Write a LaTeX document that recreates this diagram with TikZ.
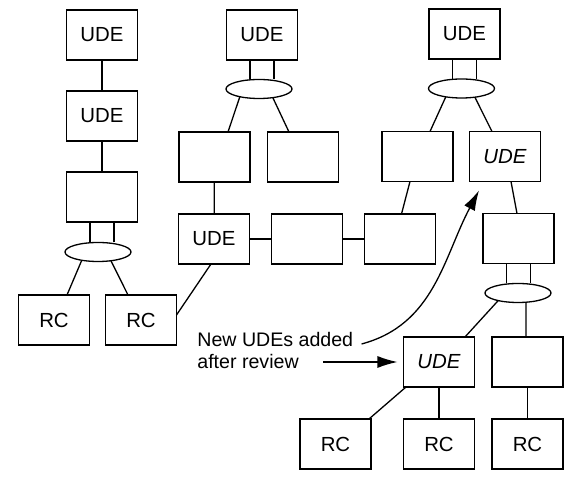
\documentclass[tikz,border=0pt]{standalone}
\usepackage{fontspec}
\setmainfont{Liberation Sans}
\usetikzlibrary{arrows.meta,positioning,shapes.geometric}
\tikzset{
  box/.style   = {rectangle, draw=black, line width=0.65pt, fill=white,
                  minimum width=35.5pt, minimum height=25pt, inner sep=0pt,
                  outer sep=0pt, font=\fontsize{10.2}{12}\selectfont},
  newbox/.style = {box, font=\fontsize{10.2}{12}\selectfont\itshape},
  oval/.style  = {ellipse, draw=black, line width=0.65pt, minimum width=33pt,
                  minimum height=9.5pt, inner sep=0pt, outer sep=0pt},
  note/.style  = {align=left, inner sep=0pt, font=\fontsize{9.8}{11}\selectfont},
  ln/.style    = {line width=0.65pt},
  fl/.style    = {ln, -{Latex[length=10pt, width=6pt]}},
}

\begin{document}
\begin{tikzpicture}[x=0.5pt, y=-0.5pt]
    \useasboundingbox (0,0) rectangle (575,486);
    % left column
    \node[box] (ude1) at (102,35) {UDE};
    \node[box, below=15.5pt of ude1] (ude2) {UDE};
    \node[box, below=15.5pt of ude2] (b1) {};
    \node[oval] (o1) at (98,252) {};
    \node[box] (rc1) at (54,320) {RC};
    \node[box] (rc2) at (141,320) {RC};
    \draw[ln] (ude1) -- (ude2);
    \draw[ln] (ude2) -- (b1);
    \draw[ln] ([xshift=-6pt]b1.south) -- ([xshift=-6pt]b1.south |- o1.north);
    \draw[ln] ([xshift=6pt]b1.south) -- ([xshift=6pt]b1.south |- o1.north);
    \draw[ln] (o1.-153) -- ([xshift=6.5pt]rc1.north);
    \draw[ln] (o1.-34) -- ([xshift=-6.5pt]rc2.north);
    % middle
    \node[box] (ude3) at (262,35) {UDE};
    \node[oval] (o2) at (259,89) {};
    \node[box] (b2) at (214.5,157) {};
    \node[box] (b3) at (303,157) {};
    \node[box] (ude4) at (214,239) {UDE};
    \node[box, right=11pt of ude4] (b4) {};
    \node[box, right=11pt of b4] (b5) {};
    \draw[ln] ([xshift=-6pt]ude3.south) -- ([xshift=-6pt]ude3.south |- o2.north);
    \draw[ln] ([xshift=6pt]ude3.south) -- ([xshift=6pt]ude3.south |- o2.north);
    \draw[ln] (o2.-158) -- ([xshift=6.75pt]b2.north);
    \draw[ln] (o2.-32) -- ([xshift=-7pt]b3.north);
    \draw[ln] (b2) -- (ude4);
    \draw[ln] (ude4) -- (b4);
    \draw[ln] (b4) -- (b5);
    \draw[ln] ([yshift=2.5pt]rc2.east) -- ([xshift=-1.5pt]ude4.south);
    % right
    \node[box] (ude5) at (464.5,34) {UDE};
    \node[oval] (o3) at (461.5,88.5) {};
    \node[box] (b6) at (417.5,156.5) {};
    \node[newbox] (ude6) at (505,156.5) {UDE};
    \node[box] (b7) at (518.5,238.5) {};
    \node[oval] (o4) at (518,293) {};
    \node[newbox] (ude7) at (439,362) {UDE};
    \node[box] (b8) at (527.5,362) {};
    \node[box] (rc3) at (335.5,444) {RC};
    \node[box] (rc4) at (439,444) {RC};
    \node[box] (rc5) at (527.5,444) {RC};
    \draw[ln] ([xshift=-6pt]ude5.south) -- ([xshift=-6pt]ude5.south |- o3.north);
    \draw[ln] ([xshift=6pt]ude5.south) -- ([xshift=6pt]ude5.south |- o3.north);
    \draw[ln] (o3.-152) -- ([xshift=6.25pt]b6.north);
    \draw[ln] (o3.-33) -- ([xshift=-6.5pt]ude6.north);
    \draw[ln] ([xshift=-3.75pt]b6.south) -- ([xshift=0.75pt]b5.north);
    \draw[ln] ([xshift=3pt]ude6.south) -- ([xshift=-0.75pt]b7.north);
    \draw[ln] ([xshift=-6pt]b7.south) -- ([xshift=-6pt]b7.south |- o4.north);
    \draw[ln] ([xshift=6pt]b7.south) -- ([xshift=6pt]b7.south |- o4.north);
    \draw[ln] (o4.-159) -- ([xshift=13pt]ude7.north);
    \draw[ln] (o4.-49) -- ([xshift=-0.75pt]b8.north);
    \draw[ln] ([xshift=-16.5pt]ude7.south) -- ([xshift=16.75pt]rc3.north);
    \draw[ln] (ude7) -- (rc4);
    \draw[ln] (b8) -- (rc5);
    % note on the new UDEs
    \node[note, anchor=north west] (note) at (197,332) {New UDEs added\\after review};
    \draw[fl] ([xshift=4pt,yshift=-6pt]note.north east) to[out=15, in=-118] ([xshift=-13pt,yshift=-4.5pt]ude6.south);
    \draw[fl] ([xshift=-40pt]ude7.west) -- ([xshift=-3pt]ude7.west);
\end{tikzpicture}
\end{document}
